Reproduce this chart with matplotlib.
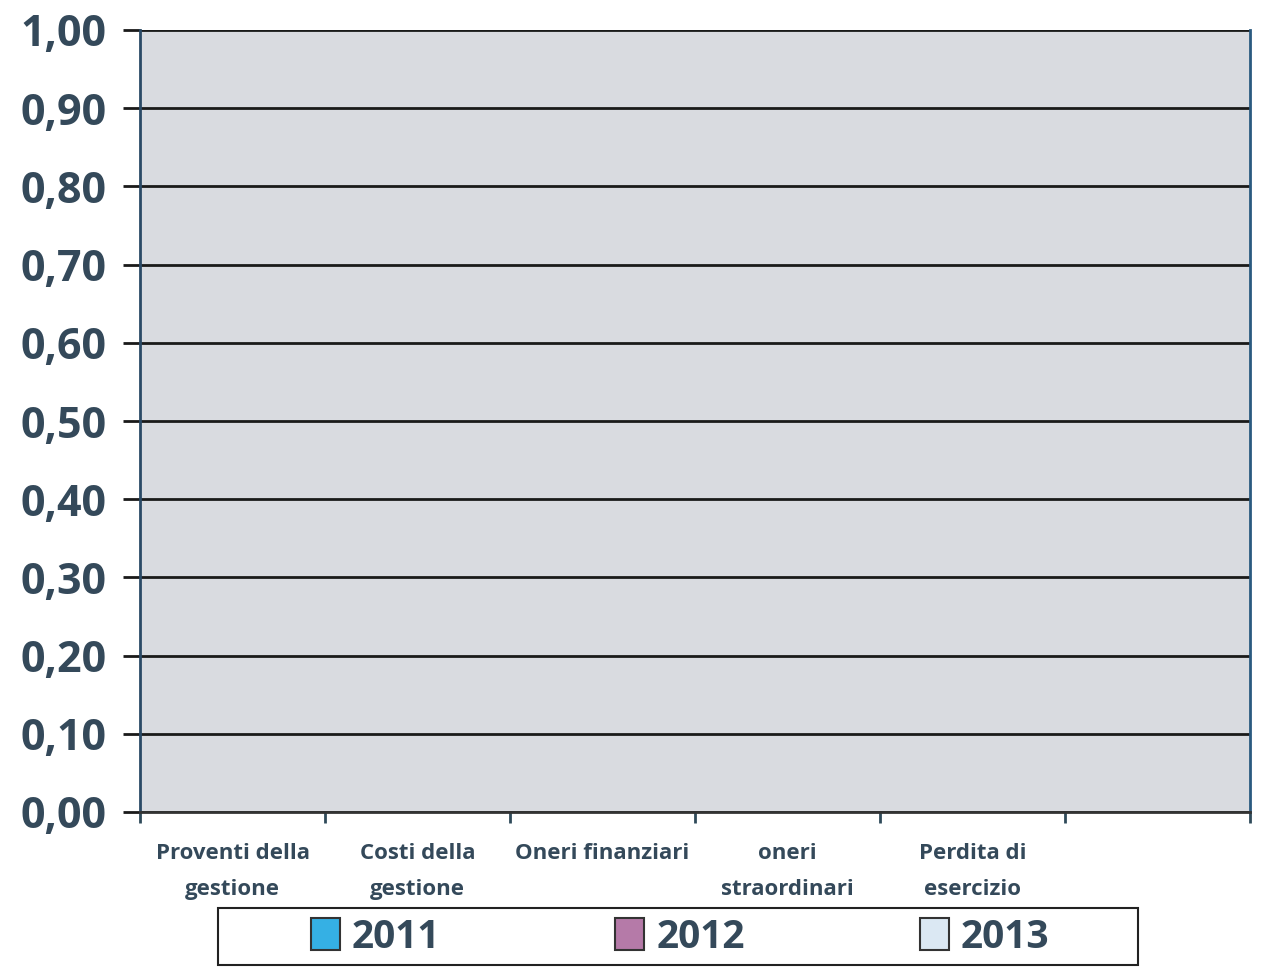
import matplotlib
matplotlib.use("Agg")
import matplotlib.pyplot as plt
import numpy as np
from matplotlib.patches import Patch, Rectangle

categories = ["Proventi della\ngestione", "Costi della\ngestione", "Oneri finanziari",
              "oneri\nstraordinari", "Perdita di\nesercizio", ""]
years = ["2011", "2012", "2013"]
values_2011 = [0, 0, 0, 0, 0, 0]
values_2012 = [0, 0, 0, 0, 0, 0]
values_2013 = [0, 0, 0, 0, 0, 0]
yticks = [0.0, 0.1, 0.2, 0.3, 0.4, 0.5, 0.6, 0.7, 0.8, 0.9, 1.0]
ytick_labels = ["0,00", "0,10", "0,20", "0,30", "0,40", "0,50", "0,60", "0,70", "0,80", "0,90", "1,00"]

colors = ["#35b0e4", "#b57aa8", "#dbe8f3"]
text_color = "#34495a"

fig = plt.figure(figsize=(12.61, 9.69), dpi=100)
fig.patch.set_facecolor("white")
ax = fig.add_axes([140 / 1261, (969 - 812) / 969, (1250 - 140) / 1261, (812 - 30) / 969])
ax.set_facecolor("#d9dbe0")

x = np.arange(len(categories))
w = 0.25
for i, (vals, c) in enumerate(zip([values_2011, values_2012, values_2013], colors)):
    ax.bar(x + (i - 1) * w, vals, width=w, color=c, edgecolor="#333333")

ax.set_xlim(-0.5, len(categories) - 0.5)
ax.set_ylim(0, 1.0)
ax.set_yticks(yticks)
ax.set_yticklabels(ytick_labels, fontsize=31, fontweight="bold", color=text_color,
                   family="Open Sans")
ax.yaxis.grid(True, color="#1a1a1a", linewidth=2.0)
ax.set_axisbelow(True)

ax.set_xticks(np.arange(len(categories) + 1) - 0.5, minor=False)
ax.set_xticklabels([])
ax.tick_params(axis="x", length=8, width=2, color="#2f4a5a", direction="out")
ax.tick_params(axis="y", length=12, width=2, color="#1a1a1a", direction="out", pad=12)
for j, lab in enumerate(categories):
    ax.text(j, -0.04, lab, transform=ax.transData, ha="center", va="top",
            fontsize=16, fontweight="bold", color=text_color, family="Open Sans",
            linespacing=1.9)

ax.spines["top"].set_visible(False)
ax.spines["left"].set_color("#2a4a66")
ax.spines["left"].set_linewidth(2)
ax.spines["right"].set_color("#2a5a80")
ax.spines["right"].set_linewidth(2)
ax.spines["bottom"].set_color("#333333")
ax.spines["bottom"].set_linewidth(2)

# legend frame
fig.patches.append(Rectangle((218 / 1261, 1 - 965 / 969), (1138 - 218) / 1261, (965 - 908) / 969,
                             transform=fig.transFigure, facecolor="white",
                             edgecolor="#222222", linewidth=1.5, zorder=1))

handles = [Patch(facecolor=c, edgecolor="#333333", linewidth=1.5) for c in colors]
leg = fig.legend(handles, years, loc="center", bbox_to_anchor=(680 / 1261, 1 - 937 / 969),
                 ncol=3, frameon=False,
                 prop={"family": "Open Sans", "weight": "bold", "size": 28},
                 columnspacing=4.5, handlelength=0.75, handleheight=0.9, handletextpad=0.3,
                 borderpad=0.1, labelcolor=text_color)
leg.set_zorder(3)

fig.savefig("out.png", dpi=100, facecolor="white")
